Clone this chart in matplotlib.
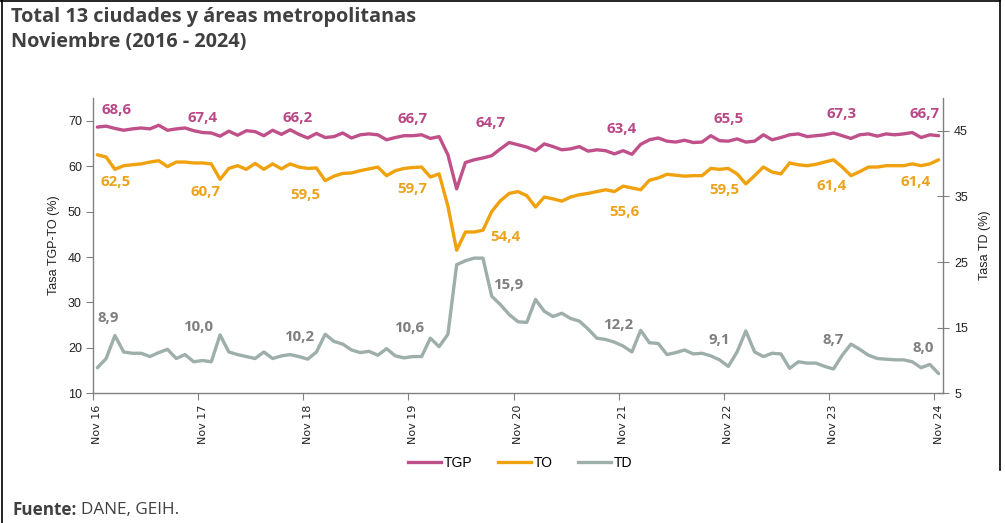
import matplotlib
matplotlib.use("Agg")
import matplotlib.pyplot as plt
from matplotlib.lines import Line2D
import numpy as np

# ---- data (Nov 2016 .. Nov 2024, monthly) ----
tick_labels = ["Nov 16", "Nov 17", "Nov 18", "Nov 19", "Nov 20",
               "Nov 21", "Nov 22", "Nov 23", "Nov 24"]

tgp = [68.6, 68.8, 68.3, 67.9, 68.2, 68.4, 68.2, 69.0, 67.9, 68.2, 68.4, 67.8,
       67.4, 67.3, 66.6, 67.7, 66.8, 67.8, 67.6, 66.7, 67.9, 67.0, 68.0, 67.0,
       66.2, 67.2, 66.3, 66.5, 67.3, 66.2, 66.9, 67.1, 66.9, 65.8, 66.3, 66.7,
       66.7, 66.9, 66.1, 66.5, 62.5, 55.0, 60.8, 61.4, 61.8, 62.3, 63.8, 65.2,
       64.7, 64.2, 63.4, 64.9, 64.3, 63.6, 63.8, 64.3, 63.3, 63.6, 63.4, 62.7,
       63.4, 62.6, 64.8, 65.8, 66.2, 65.5, 65.3, 65.7, 65.2, 65.3, 66.7, 65.6,
       65.5, 66.0, 65.3, 65.5, 66.9, 65.8, 66.3, 66.9, 67.1, 66.5, 66.7, 66.9,
       67.3, 66.7, 66.1, 66.9, 67.1, 66.6, 67.1, 66.9, 67.1, 67.4, 66.3, 66.9,
       66.7]

to = [62.5, 62.0, 59.3, 60.1, 60.3, 60.5, 60.9, 61.2, 59.9, 60.9, 60.9, 60.7,
      60.7, 60.5, 57.1, 59.5, 60.1, 59.3, 60.6, 59.3, 60.5, 59.4, 60.5, 59.8,
      59.5, 59.6, 56.8, 57.8, 58.4, 58.5, 59.0, 59.4, 59.8, 57.9, 59.0, 59.5,
      59.7, 59.8, 57.6, 58.3, 51.2, 41.5, 45.5, 45.5, 45.9, 50.0, 52.4, 54.0,
      54.4, 53.5, 51.0, 53.2, 52.8, 52.3, 53.2, 53.7, 54.0, 54.4, 54.8, 54.4,
      55.6, 55.2, 54.8, 56.9, 57.4, 58.2, 58.0, 57.8, 57.9, 57.9, 59.5, 59.3,
      59.5, 58.3, 56.1, 57.9, 59.8, 58.7, 58.3, 60.7, 60.3, 60.1, 60.4, 60.9,
      61.4, 59.8, 57.9, 58.8, 59.8, 59.8, 60.1, 60.1, 60.1, 60.5, 60.1, 60.5,
      61.4]

td = [8.9, 10.3, 13.8, 11.3, 11.1, 11.1, 10.6, 11.2, 11.7, 10.3, 10.9, 9.8,
      10.0, 9.8, 13.9, 11.3, 10.9, 10.6, 10.3, 11.3, 10.3, 10.7, 10.9, 10.6,
      10.2, 11.3, 14.0, 12.9, 12.5, 11.6, 11.2, 11.4, 10.8, 11.8, 10.7, 10.4,
      10.6, 10.6, 13.4, 12.1, 14.0, 24.6, 25.2, 25.6, 25.6, 19.8, 18.5, 17.0,
      15.9, 15.8, 19.3, 17.5, 16.7, 17.2, 16.4, 16.0, 14.8, 13.4, 13.2, 12.8,
      12.2, 11.3, 14.6, 12.7, 12.6, 10.9, 11.2, 11.6, 11.0, 11.1, 10.7, 10.1,
      9.1, 11.3, 14.5, 11.3, 10.6, 11.1, 11.0, 8.8, 9.8, 9.6, 9.6, 9.1,
      8.7, 10.8, 12.5, 11.7, 10.8, 10.3, 10.2, 10.1, 10.1, 9.8, 8.9, 9.4,
      8.0]

# label positions (month index) and pixel offsets of the data labels
label_idx = [0, 12, 24, 36, 48, 60, 72, 84, 96]
tgp_off = [(19, 17), (0, 15), (-10, 20), (0, 17), (-27, 22), (-2, 22), (0, 22), (8, 19), (-14, 22)]
to_off = [(18, -27), (3, -29), (-2, -27), (-1, -21), (-13, -45), (1, -26), (-4, -22), (-2, -26), (-23, -22)]
td_off = [(11, 50), (-4, 33), (-9, 22), (-4, 29), (-10, 37), (-5, 21), (-9, 26), (0, 29), (-15, 26)]

# ---- style ----
c_tgp, c_to, c_td = "#C0508A", "#F0A10E", "#9DAEAB"
c_tgp_l, c_to_l, c_td_l = "#B84886", "#EDA21C", "#7F7F7F"
font = ["Open Sans", "DejaVu Sans"]
plt.rcParams["font.family"] = font

W, H = 1005, 523
fig = plt.figure(figsize=(W / 100, H / 100), dpi=100)
fig.patch.set_facecolor("white")

L, R, B, T = 93, 943, 393.3, 98
ax = fig.add_axes([L / W, 1 - B / H, (R - L) / W, (B - T) / H])
ax2 = ax.twinx()

x = np.arange(len(tgp))
lw = 2.4
ax.plot(x, tgp, color=c_tgp, lw=lw, solid_joinstyle="round", solid_capstyle="round", zorder=3)
ax.plot(x, to, color=c_to, lw=lw, solid_joinstyle="round", solid_capstyle="round", zorder=3)
ax2.plot(x, td, color=c_td, lw=lw, solid_joinstyle="round", solid_capstyle="round", zorder=3)

ax.set_xlim(-0.5, len(tgp) - 0.5)
ax.set_ylim(10, 75)
ax2.set_ylim(5, 50)

ax.set_yticks([10, 20, 30, 40, 50, 60, 70])
ax2.set_yticks([5, 15, 25, 35, 45])

ax.set_xticks([i - 0.5 for i in label_idx])
ax.set_xticklabels([])
ax.set_xticks(label_idx, minor=True)
ax.set_xticklabels(tick_labels, minor=True, rotation=90, fontsize=8,
                   family=["DejaVu Sans"], color="#222222")
ax.tick_params(axis="x", which="minor", length=0, pad=8)
ax.tick_params(axis="x", which="major", length=5, direction="out", color="#808080")
ax.tick_params(axis="y", length=5, direction="out", color="#808080", labelsize=9,
               labelcolor="#222222", pad=3)
ax2.tick_params(axis="y", length=8, direction="inout", color="#808080", labelsize=9,
                labelcolor="#222222", pad=4)
for lab in ax.get_yticklabels() + ax2.get_yticklabels():
    lab.set_family(["Liberation Sans", "DejaVu Sans"])

for a in (ax, ax2):
    a.spines["top"].set_visible(False)
    for s in ("left", "right", "bottom"):
        a.spines[s].set_color("#808080")
        a.spines[s].set_linewidth(1.0)
ax.spines["right"].set_visible(False)
ax2.spines["left"].set_visible(False)
ax2.spines["bottom"].set_visible(False)

ax.set_ylabel("Tasa TGP-TO (%)", fontsize=9, family=["Liberation Sans", "DejaVu Sans"],
              color="#222222", labelpad=6)
ax2.set_ylabel("Tasa TD (%)", fontsize=9, family=["Liberation Sans", "DejaVu Sans"],
               color="#222222", labelpad=8)

# data labels
def lab(a, series, offs, col):
    for i, (dx, dy) in zip(label_idx, offs):
        a.annotate(f"{series[i]:.1f}".replace(".", ","), (i, series[i]),
                   xytext=(dx, dy), textcoords="offset pixels",
                   ha="center", va="center", fontsize=10.8, fontweight="bold",
                   color=col, zorder=5)

lab(ax, tgp, tgp_off, c_tgp_l)
lab(ax, to, to_off, c_to_l)
lab(ax2, td, td_off, c_td_l)

# title
fig.text(11 / W, 1 - 17 / H, "Total 13 ciudades y áreas metropolitanas", fontsize=14.3,
         fontweight="bold", color="#404040", va="center", ha="left")
fig.text(11 / W, 1 - 42 / H, "Noviembre (2016 - 2024)", fontsize=14.3,
         fontweight="bold", color="#404040", va="center", ha="left")

# legend
handles = [Line2D([], [], color=c_tgp, lw=2.4), Line2D([], [], color=c_to, lw=2.4),
           Line2D([], [], color=c_td, lw=2.4)]
fig.legend(handles, ["TGP", "TO", "TD"], loc="center", bbox_to_anchor=(520 / W, 1 - 463 / H),
           ncol=3, frameon=False, handlelength=2.4, handletextpad=0.2, columnspacing=1.8,
           prop={"family": ["Liberation Sans", "DejaVu Sans"], "size": 10})

# source
t1 = fig.text(12 / W, 1 - 510 / H, "Fuente:", fontsize=12.3, fontweight="bold",
              color="#404040", va="center", ha="left")
fig.canvas.draw()
bb = t1.get_window_extent(renderer=fig.canvas.get_renderer())
fig.text((bb.x1 + 5) / W, 1 - 510 / H, "DANE, GEIH.", fontsize=12.3, color="#404040",
         va="center", ha="left")

# frame lines
fig.add_artist(Line2D([1.5 / W, 1.5 / W], [0, 1], color="black", lw=1.2, transform=fig.transFigure))
fig.add_artist(Line2D([0, 1000 / W], [1 - 1 / H, 1 - 1 / H], color="black", lw=1.2, transform=fig.transFigure))
fig.add_artist(Line2D([1000 / W, 1000 / W], [1 - 470 / H, 1], color="black", lw=1.2, transform=fig.transFigure))

fig.savefig("out.png", dpi=100)
